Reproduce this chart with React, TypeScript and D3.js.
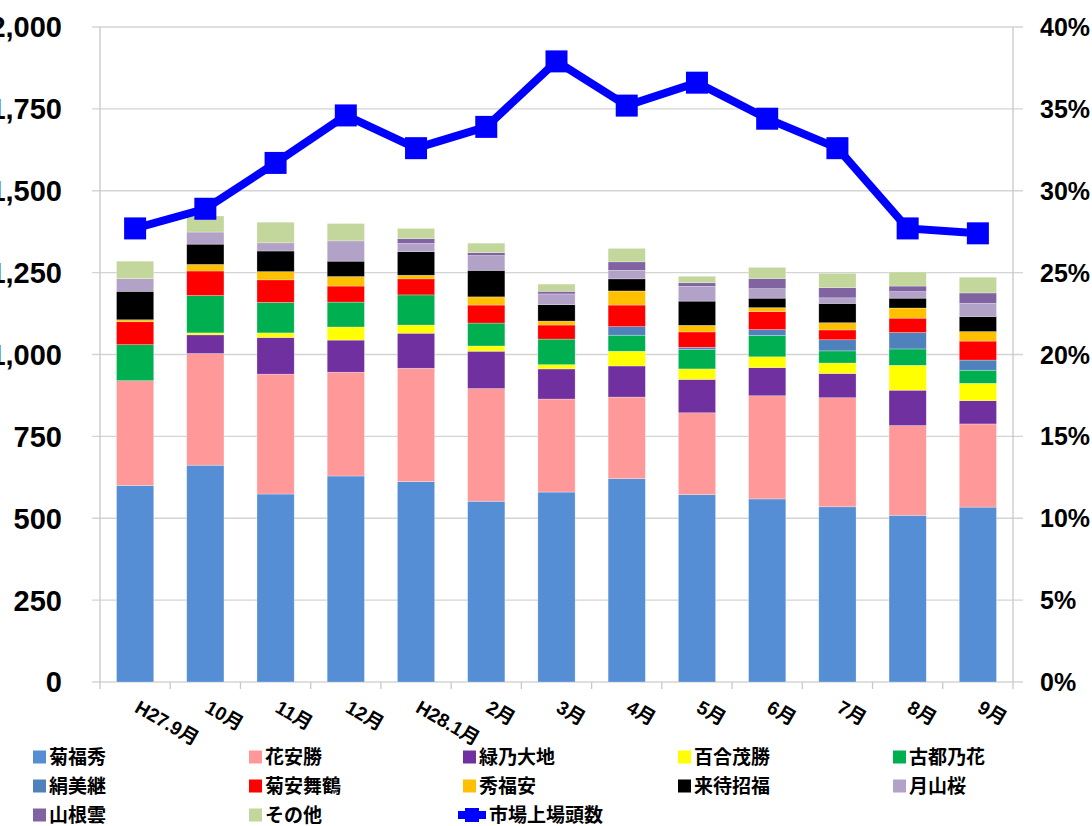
import * as d3 from "d3";

const categories = ["H27.9月", "10月", "11月", "12月", "H28.1月", "2月", "3月", "4月", "5月", "6月", "7月", "8月", "9月"];

const kikufukuhide = [600, 662, 574, 629, 612, 552, 580, 621, 572, 559, 535, 509, 534];
const hanayasukatsu = [320, 341, 366, 317, 346, 344, 284, 249, 250, 315, 333, 274, 254];
const midorinodaichi = [0, 57, 112, 98, 107, 114, 92, 95, 102, 86, 74, 108, 71];
const yurishigekatsu = [0, 6, 14, 40, 25, 16, 13, 45, 32, 33, 32, 76, 53];
const kotonohana = [110, 114, 93, 76, 92, 70, 78, 49, 59, 65, 37, 50, 40];
const kinumitsugu = [0, 0, 0, 0, 0, 0, 0, 26, 7, 18, 34, 50, 31];
const kikuyasumaizuru = [70, 75, 69, 49, 49, 55, 43, 66, 47, 55, 30, 44, 58];
const hidefukuyasu = [6, 20, 25, 29, 11, 25, 12, 43, 20, 12, 22, 31, 29];
const kimachishofuku = [87, 62, 63, 47, 72, 81, 50, 37, 74, 29, 59, 30, 46];
const gassanzakura = [39, 37, 25, 62, 25, 45, 33, 26, 45, 29, 17, 20, 40];
const yamaneun = [0, 0, 0, 0, 15, 9, 8, 26, 11, 31, 31, 17, 32];
const sonota = [53, 49, 63, 53, 31, 29, 22, 41, 20, 34, 44, 43, 48];

// 市場上場頭数 share (%)
const marketShare = [27.7, 28.9, 31.7, 34.6, 32.6, 33.9, 37.9, 35.2, 36.6, 34.4, 32.6, 27.7, 27.4];

const leftTicks = [0, 250, 500, 750, 1000, 1250, 1500, 1750, 2000];
const rightTicks = [0, 5, 10, 15, 20, 25, 30, 35, 40];

const series = [
  { name: "菊福秀", values: kikufukuhide, color: "#558ED5" },
  { name: "花安勝", values: hanayasukatsu, color: "#FF9999" },
  { name: "緑乃大地", values: midorinodaichi, color: "#7030A0" },
  { name: "百合茂勝", values: yurishigekatsu, color: "#FFFF00" },
  { name: "古都乃花", values: kotonohana, color: "#00B050" },
  { name: "絹美継", values: kinumitsugu, color: "#4F81BD" },
  { name: "菊安舞鶴", values: kikuyasumaizuru, color: "#FF0000" },
  { name: "秀福安", values: hidefukuyasu, color: "#FFC000" },
  { name: "来待招福", values: kimachishofuku, color: "#000000" },
  { name: "月山桜", values: gassanzakura, color: "#B3A2C7" },
  { name: "山根雲", values: yamaneun, color: "#8064A2" },
  { name: "その他", values: sonota, color: "#C3D69B" },
];

const W = 1092;
const H = 826;
const margin = { top: 27, left: 100, right: 1013, bottom: 682 };
const font = "'Liberation Sans', Arial, 'Noto Sans CJK JP', sans-serif";
const cjkFont = "'Noto Sans CJK JP', 'Liberation Sans', sans-serif";

const App = () => {
  const x = d3
    .scaleBand<number>()
    .domain(d3.range(categories.length))
    .range([margin.left, margin.right])
    .paddingInner(0.47)
    .paddingOuter(0.235);

  const y = d3.scaleLinear().domain([0, 2000]).range([margin.bottom, margin.top]);
  const y2 = d3.scaleLinear().domain([0, 40]).range([margin.bottom, margin.top]);

  const rows = categories.map((c, i) => {
    const r: Record<string, number> = { idx: i };
    series.forEach((s) => (r[s.name] = s.values[i]));
    return r;
  });
  const stacked = d3.stack<Record<string, number>>().keys(series.map((s) => s.name))(rows);

  const step = x.step();
  const cx = (i: number) => (x(i) as number) + x.bandwidth() / 2;

  const line = d3
    .line<number>()
    .x((d, i) => cx(i))
    .y((d) => y2(d));

  const fmt = d3.format(",");

  const legendCols = [33, 249, 463, 678, 893];
  const legendRows = [757, 786, 815];

  return (
    <svg
      width={W}
      height={H}
      style={{ position: "absolute", left: 0, top: 0, background: "#fff" }}
    >
      {/* gridlines */}
      <g>
        {leftTicks.map((t) => (
          <line key={t} x1={92} x2={1023} y1={y(t)} y2={y(t)} stroke="#d4d4d4" strokeWidth={1.3} />
        ))}
      </g>
      {/* axes */}
      <line x1={margin.left} x2={margin.left} y1={margin.top} y2={margin.bottom} stroke="#c8c8c8" strokeWidth={1.3} />
      <line x1={margin.right} x2={margin.right} y1={margin.top} y2={margin.bottom} stroke="#c8c8c8" strokeWidth={1.3} />
      {d3.range(categories.length + 1).map((i) => (
        <line
          key={i}
          x1={margin.left + i * step}
          x2={margin.left + i * step}
          y1={margin.bottom}
          y2={margin.bottom + 7}
          stroke="#c8c8c8"
          strokeWidth={1.3}
        />
      ))}

      {/* bars */}
      {stacked.map((layer, si) => (
        <g key={series[si].name} fill={series[si].color}>
          {layer.map((d, i) =>
            d[1] - d[0] > 0 ? (
              <rect
                key={i}
                x={x(i)}
                y={y(d[1])}
                width={x.bandwidth()}
                height={y(d[0]) - y(d[1])}
                stroke="#ffffff"
                strokeOpacity={0.45}
                strokeWidth={0.6}
              />
            ) : null
          )}
        </g>
      ))}

      {/* line */}
      <path d={line(marketShare) || ""} fill="none" stroke="#0000FF" strokeWidth={8} strokeLinejoin="miter" />
      {marketShare.map((v, i) => (
        <rect key={i} x={cx(i) - 11} y={y2(v) - 11} width={22} height={22} fill="#0000FF" />
      ))}

      {/* left axis labels */}
      {leftTicks.map((t) => (
        <text
          key={t}
          x={62}
          y={y(t)}
          dy="0.36em"
          textAnchor="end"
          fontFamily={font}
          fontWeight="bold"
          fontSize={29}
          fill="#000"
        >
          {fmt(t)}
        </text>
      ))}
      {/* right axis labels */}
      {rightTicks.map((t) => (
        <text
          key={t}
          x={1040}
          y={y2(t)}
          dy="0.36em"
          textAnchor="start"
          fontFamily={font}
          fontWeight="bold"
          fontSize={25}
          fill="#000"
        >
          {`${t}%`}
        </text>
      ))}

      {/* category labels */}
      {categories.map((c, i) => (
        <text
          key={c}
          transform={`translate(${cx(i) + 6},${698}) rotate(30)`}
          dy="0.8em"
          fontFamily={font}
          fontWeight="bold"
          fontSize={19}
          fill="#000"
        >
          {c}
        </text>
      ))}

      {/* legend */}
      {series.map((s, i) => {
        const lx = legendCols[i % 5];
        const ly = legendRows[Math.floor(i / 5)];
        return (
          <g key={s.name}>
            <rect x={lx} y={ly - 6.5} width={13} height={13} fill={s.color} />
            <text
              x={lx + 16}
              y={ly}
              dy="0.36em"
              fontFamily={cjkFont}
              fontWeight="bold"
              fontSize={19}
              fill="#000"
            >
              {s.name}
            </text>
          </g>
        );
      })}
      <g>
        <line x1={458} x2={486} y1={legendRows[2]} y2={legendRows[2]} stroke="#0000FF" strokeWidth={8} />
        <rect x={465} y={legendRows[2] - 7} width={14} height={14} fill="#0000FF" />
        <text
          x={489}
          y={legendRows[2]}
          dy="0.36em"
          fontFamily={cjkFont}
          fontWeight="bold"
          fontSize={19}
          fill="#000"
        >
          市場上場頭数
        </text>
      </g>
    </svg>
  );
};

export default App;
